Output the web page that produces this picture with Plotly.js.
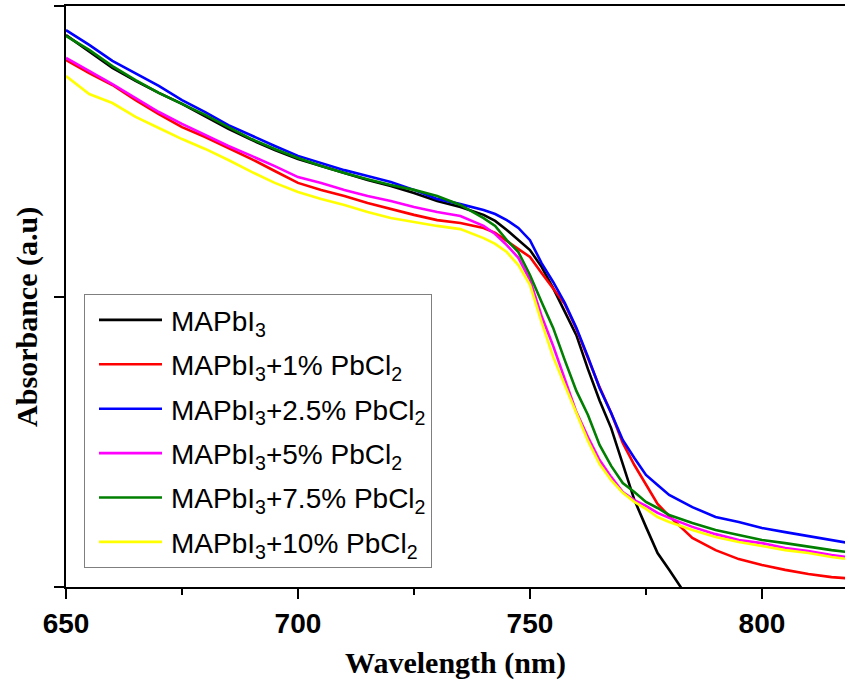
<!DOCTYPE html>
<html>
<head>
<meta charset="utf-8">
<script src="https://cdn.plot.ly/plotly-3.0.1.min.js"></script>
<style>html,body{margin:0;padding:0;background:#fff;}#chart{width:845px;height:684px;}</style>
</head>
<body>
<div id="chart"></div>
<script>
const wavelength = [650,655,660,665,670,675,680,685,690,695,700,705,710,715,720,725,730,735,740,742.5,745,747.5,750,752.5,755,757.5,760,762.5,765,767.5,770,772.5,775,777.5,780,785,790,795,800,805,810,815,820];

const absMAPbI3 = [1.900,1.845,1.787,1.742,1.701,1.663,1.621,1.577,1.539,1.504,1.473,1.449,1.425,1.401,1.380,1.356,1.329,1.308,1.281,1.260,1.229,1.194,1.160,1.102,1.029,0.948,0.867,0.750,0.642,0.547,0.420,0.300,0.207,0.117,0.059,-0.060,null,null,null,null,null,null,null];
const absPb1 = [1.814,1.769,1.728,1.676,1.628,1.583,1.549,1.511,1.473,1.432,1.391,1.367,1.346,1.322,1.301,1.281,1.263,1.253,1.236,1.219,1.191,1.164,1.136,1.081,1.029,0.974,0.888,0.788,0.688,0.599,0.496,0.420,0.351,0.286,0.244,0.169,0.127,0.096,0.076,0.059,0.045,0.034,0.028];
const absPb25 = [1.917,1.866,1.811,1.769,1.725,1.676,1.635,1.590,1.553,1.518,1.484,1.460,1.435,1.415,1.394,1.367,1.336,1.318,1.298,1.284,1.263,1.236,1.194,1.115,1.050,0.978,0.892,0.792,0.685,0.599,0.506,0.444,0.386,0.351,0.317,0.275,0.241,0.224,0.203,0.189,0.176,0.162,0.148];
const absPb5 = [1.821,1.776,1.731,1.683,1.635,1.594,1.556,1.518,1.484,1.449,1.411,1.391,1.367,1.346,1.329,1.308,1.291,1.277,1.243,1.215,1.177,1.133,1.057,0.933,0.830,0.713,0.602,0.516,0.437,0.379,0.327,0.299,0.279,0.255,0.238,0.207,0.182,0.162,0.151,0.134,0.124,0.110,0.100];
const absPb75 = [1.897,1.849,1.793,1.745,1.701,1.663,1.625,1.583,1.542,1.508,1.477,1.449,1.425,1.404,1.384,1.367,1.346,1.315,1.270,1.243,1.194,1.153,1.074,0.981,0.892,0.781,0.675,0.592,0.489,0.417,0.358,0.327,0.293,0.272,0.248,0.220,0.196,0.179,0.162,0.151,0.138,0.127,0.117];
const absPb10 = [1.759,1.697,1.666,1.618,1.580,1.542,1.508,1.470,1.429,1.391,1.360,1.336,1.315,1.291,1.270,1.256,1.243,1.232,1.201,1.181,1.153,1.108,1.040,0.912,0.792,0.695,0.596,0.503,0.423,0.368,0.324,0.293,0.269,0.241,0.224,0.196,0.172,0.155,0.141,0.127,0.117,0.103,0.093];

const seriesNames = ["MAPbI<sub>3</sub>","MAPbI<sub>3</sub>+1% PbCl<sub>2</sub>","MAPbI<sub>3</sub>+2.5% PbCl<sub>2</sub>","MAPbI<sub>3</sub>+5% PbCl<sub>2</sub>","MAPbI<sub>3</sub>+7.5% PbCl<sub>2</sub>","MAPbI<sub>3</sub>+10% PbCl<sub>2</sub>"];
const seriesColors = ["#000000","#ff0000","#0000ff","#ff00ff","#007f00","#ffff00"];
const seriesValues = [absMAPbI3, absPb1, absPb25, absPb5, absPb75, absPb10];

const xTickVals = [650,700,750,800];
const xTickText = ["650","700","750","800"];
const yTickVals = [0,1,2];

const traces = seriesValues.map((vals,i)=>({
  type:'scatter', mode:'lines', x: wavelength, y: vals, name: seriesNames[i], legendgroup:'g'+i,
  line:{color: seriesColors[i], width:2.6}
}));

const tickFont = {family:'Arial, "Liberation Sans", sans-serif', size:28, color:'#000', weight:'bold'};
const titleFont = {family:'"Times New Roman", "Liberation Serif", serif', size:30, color:'#000', weight:'bold'};

const layout = {
  width:845, height:684,
  margin:{l:66, r:0, t:6, b:97},
  paper_bgcolor:'#fff', plot_bgcolor:'#fff',
  showlegend:true,
  legend:{x:0.0231, y:0.504, xanchor:'left', yanchor:'top', bgcolor:'#fff', bordercolor:'#7f7f7f', borderwidth:1,
          font:{family:'Arial, "Liberation Sans", sans-serif', size:28, color:'#000'}, itemwidth:76, tracegroupgap:5},
  xaxis:{range:[650,817.9], showline:true, linecolor:'#000', linewidth:2, mirror:true,
         tickmode:'array', tickvals:xTickVals, ticktext:xTickText, ticks:'outside', ticklen:10, tickwidth:2, tickcolor:'#000',
         minor:{dtick:25, tick0:650, ticks:'outside', ticklen:6, tickwidth:2, tickcolor:'#000', showgrid:false},
         showgrid:false, zeroline:false, tickfont:tickFont,
         title:{text:'Wavelength (nm)', font:titleFont, standoff:14}},
  yaxis:{range:[0,2], showline:true, linecolor:'#000', linewidth:2,
         tickmode:'array', tickvals:yTickVals, ticks:'outside', ticklen:10, tickwidth:2, tickcolor:'#000',
         showticklabels:false, showgrid:false, zeroline:false},
  annotations:[{xref:'paper', yref:'paper', x:-0.05, y:0.465, xanchor:'center', yanchor:'middle', textangle:-90,
    showarrow:false, text:'Absorbance (a.u)', font:titleFont}]
};

Plotly.newPlot('chart', traces, layout, {staticPlot:true}).then(()=>{
  document.querySelectorAll('.legendlines path').forEach(p=>p.setAttribute('d','M14,0h63'));
});
</script>
</body>
</html>
